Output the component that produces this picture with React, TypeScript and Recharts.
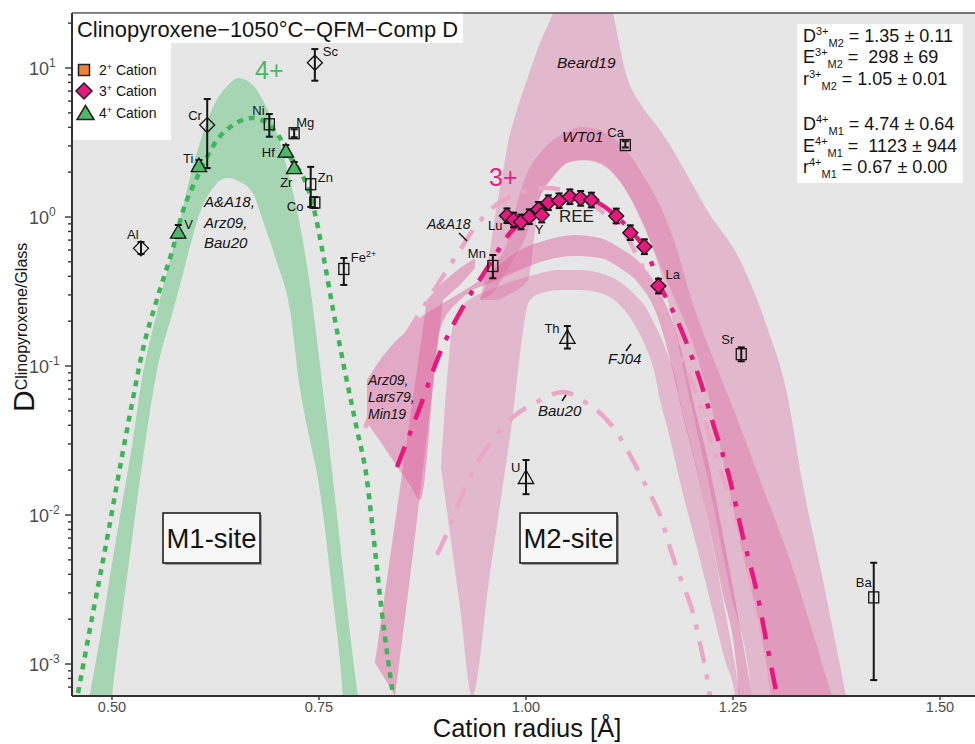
import React from 'react';
import { ComposedChart, Area, Line, Scatter, XAxis, YAxis, ErrorBar } from 'recharts';

const FONT = '"Liberation Sans", Arial, Helvetica, sans-serif';
const INK = '#141414';

// ---------------- axes ----------------
const X_MIN = 0.4517;
const X_MAX = 1.5423;
const Y_MIN = 0.00061;
const Y_MAX = 23.4;
const xTicks = [0.5, 0.75, 1.0, 1.25, 1.5];
const yTicks = [
  0.0007, 0.0008, 0.0009, 0.001, 0.002, 0.003, 0.004, 0.005, 0.006, 0.007, 0.008, 0.009,
  0.01, 0.02, 0.03, 0.04, 0.05, 0.06, 0.07, 0.08, 0.09,
  0.1, 0.2, 0.3, 0.4, 0.5, 0.6, 0.7, 0.8, 0.9,
  1, 2, 3, 4, 5, 6, 7, 8, 9, 10, 20,
];
const yMajor = [0.001, 0.01, 0.1, 1, 10];
const yMajorExp = ['-3', '-2', '-1', '0', '1'];

// ---------------- M1-site model band (A&A18, Arz09, Bau20) ----------------
const greenBandR = [0.473, 0.486, 0.5, 0.513, 0.524, 0.536, 0.554, 0.574, 0.585, 0.594, 0.606, 0.622, 0.639, 0.653, 0.67, 0.682, 0.699, 0.715, 0.727, 0.739, 0.749, 0.767, 0.779, 0.787, 0.797];
const greenBandHi = [0.00061, 0.00154, 0.00469, 0.0126, 0.0286, 0.0805, 0.227, 0.629, 1.11, 1.83, 3.14, 5.47, 7.57, 8.57, 7.69, 6.1, 3.66, 1.77, 0.884, 0.35, 0.128, 0.0172, 0.00427, 0.00169, 0.00061];
const greenBandLo = [0.0001, 0.0001, 0.00061, 0.0023, 0.0068, 0.021, 0.0912, 0.238, 0.402, 0.629, 1.06, 1.57, 1.83, 1.74, 1.45, 0.955, 0.499, 0.238, 0.0712, 0.0319, 0.0172, 0.00269, 0.00061, 0.0001, 0.0001];

// ---------------- 4+ fit on M1 ----------------
const fit4R = [0.459, 0.477, 0.496, 0.504, 0.522, 0.538, 0.554, 0.574, 0.585, 0.603, 0.627, 0.646, 0.67, 0.699, 0.715, 0.736, 0.745, 0.754, 0.767, 0.781, 0.796, 0.808, 0.815, 0.826, 0.839];
const fit4D = [0.000639, 0.0022, 0.00793, 0.01405, 0.0484, 0.134, 0.277, 0.629, 1.064, 1.856, 3.29, 4.14, 4.62, 3.66, 2.53, 1.59, 1.064, 0.6, 0.238, 0.094, 0.0372, 0.01717, 0.00793, 0.0022, 0.000639];

// ---------------- M2-site model bands ----------------
const beardR = [0.9445, 0.9565, 0.9638, 0.971, 0.9783, 0.9891, 1.0024, 1.0169, 1.0326, 1.0531, 1.0773, 1.0978, 1.1051, 1.122, 1.1377, 1.1618, 1.1775, 1.1981, 1.2186, 1.2584, 1.2911, 1.3152, 1.3333, 1.3611, 1.3865];
const beardHi = [0.277, 0.6, 1.114, 1.856, 3.14, 5.23, 8.7, 14.7, 23.4, 53.1, 61.9, 36.1, 23.4, 8.7, 5.82, 3.84, 2.82, 1.771, 1.114, 0.515, 0.183, 0.0659, 0.0172, 0.00314, 0.00061];
const beardLo = [0.277, 0.277, 0.277, 0.286, 0.3, 0.324, 0.378, 1.362, 1.856, 2.34, 2.41, 2.17, 1.97, 1.472, 0.985, 0.476, 0.3, 0.161, 0.069, 0.00669, 0.00094, 0.0001, 0.0001, 0.0001, 0.0001];

const wt01R = [0.9445, 0.9626, 0.9771, 0.9867, 0.9964, 1.0169, 1.0326, 1.0495, 1.0652, 1.0857, 1.1051, 1.1256, 1.1413, 1.1618, 1.1799, 1.1981, 1.2222, 1.2464, 1.2729, 1.2826, 1.3188, 1.3454, 1.3696];
const wt01Hi = [0.277, 0.476, 0.669, 1.08, 1.691, 2.69, 3.29, 3.72, 4.02, 3.9, 3.39, 2.61, 1.91, 1.204, 0.669, 0.3, 0.128, 0.0591, 0.0241, 0.0172, 0.00499, 0.00169, 0.00061];
const wt01Lo = [0.277, 0.324, 0.441, 0.539, 0.669, 1.362, 1.856, 2.3, 2.41, 2.3, 1.97, 1.362, 0.911, 0.441, 0.174, 0.0591, 0.0147, 0.00314, 0.00061, 0.0001, 0.0001, 0.0001, 0.0001];

const arzR = [0.808, 0.8237, 0.8406, 0.8599, 0.872, 0.8961, 0.9203, 0.9324, 0.9601, 0.9928, 1.0254, 1.0592, 1.0894, 1.1135, 1.1377, 1.1558, 1.1679, 1.1763, 1.1908, 1.2017, 1.2198, 1.2367, 1.2548, 1.2645, 1.2729];
const arzHi = [0.0805, 0.1097, 0.1427, 0.18, 0.21, 0.257, 0.309, 0.339, 0.441, 0.6, 0.701, 0.757, 0.723, 0.619, 0.491, 0.361, 0.265, 0.204, 0.1097, 0.0591, 0.0234, 0.00793, 0.0023, 0.00115, 0.00061];
const arzLo = [0.0414, 0.0314, 0.0227, 0.0159, 0.0126, 0.174, 0.277, 0.314, 0.366, 0.441, 0.515, 0.547, 0.531, 0.455, 0.35, 0.238, 0.1494, 0.097, 0.0434, 0.0253, 0.00926, 0.00314, 0.000911, 0.0001, 0.0001];

const fjR = [0.8973, 0.9046, 0.9106, 0.9203, 0.9348, 0.9565, 0.9807, 1.0048, 1.0229, 1.0411, 1.0652, 1.0894, 1.1135, 1.1316, 1.1437, 1.1558, 1.1618, 1.1715, 1.1799, 1.186, 1.2041, 1.2222, 1.2403, 1.2524, 1.2584];
const fjHi = [0.021, 0.0805, 0.174, 0.238, 0.286, 0.324, 0.366, 0.402, 0.428, 0.441, 0.441, 0.421, 0.366, 0.3, 0.253, 0.188, 0.161, 0.1185, 0.087, 0.0591, 0.0234, 0.00793, 0.0023, 0.000985, 0.00061];
const fjLo = [0.021, 0.01063, 0.006, 0.00241, 0.00061, 0.00408, 0.0334, 0.277, 0.314, 0.324, 0.324, 0.309, 0.257, 0.188, 0.1383, 0.087, 0.0591, 0.0372, 0.0234, 0.0167, 0.0068, 0.00269, 0.00106, 0.00061, 0.0001];

const stripR = [0.8176, 0.8297, 0.8418, 0.8599, 0.8804, 0.8998, 0.9203, 0.9384];
const stripHi = [0.00102, 0.003, 0.00884, 0.0441, 0.277, 0.366, 0.455, 0.531];
const stripLo = [0.00102, 0.000793, 0.00061, 0.00378, 0.0344, 0.277, 0.35, 0.455];

// ---------------- M2-site curves ----------------
const fit3R = [0.8442, 0.872, 0.8961, 0.9287, 0.9541, 0.9807, 1.0048, 1.029, 1.0495, 1.0713, 1.0954, 1.1099, 1.128, 1.1461, 1.1618, 1.1824, 1.2101, 1.2258, 1.2464, 1.2621, 1.279, 1.2923, 1.3031];
const fit3D = [0.021, 0.0531, 0.1223, 0.277, 0.462, 0.781, 1.031, 1.261, 1.362, 1.341, 1.167, 1.0, 0.793, 0.582, 0.35, 0.204, 0.0805, 0.0414, 0.0172, 0.00712, 0.003, 0.00124, 0.00061];

const aa18R = [0.8056, 0.8237, 0.8394, 0.8515, 0.8816, 0.9046, 0.9203, 0.936, 0.9565, 0.9928, 1.0229, 1.0531, 1.0894, 1.122, 1.1413, 1.1618, 1.1896, 1.2101, 1.2258, 1.2464, 1.2609, 1.2766, 1.2911, 1.3007];
const aa18D = [0.0384, 0.069, 0.1149, 0.1494, 0.277, 0.441, 0.6, 0.818, 1.114, 1.449, 1.565, 1.472, 1.114, 0.734, 0.455, 0.265, 0.1097, 0.0547, 0.0286, 0.0126, 0.0068, 0.00282, 0.00119, 0.00061];

const bau20R = [0.8925, 0.9046, 0.9203, 0.9408, 0.9601, 0.9843, 1.0109, 1.0447, 1.0713, 1.0894, 1.1051, 1.1256, 1.1473, 1.1618, 1.1775, 1.1908, 1.2017, 1.2101, 1.2174, 1.2222];
const bau20D = [0.00539, 0.00757, 0.0126, 0.0223, 0.0319, 0.0455, 0.0564, 0.0669, 0.0573, 0.0484, 0.039, 0.0253, 0.0147, 0.01, 0.00523, 0.00329, 0.0022, 0.00138, 0.000884, 0.00061];

// ---------------- measured partition coefficients ----------------
const cat2Names = ['Ni', 'Mg', 'Zn', 'Co', 'Fe2+', 'Mn', 'Ca', 'Sr', 'Ba'];
const cat2R = [0.69, 0.72, 0.74, 0.745, 0.78, 0.96, 1.12, 1.26, 1.42];
const cat2D = [4.19, 3.65, 1.66, 1.25, 0.448, 0.469, 3.04, 0.12, 0.0028];
const cat2Lo = [3.46, 3.43, 1.17, 1.15, 0.35, 0.388, 2.93, 0.1075, 0.00078];
const cat2Hi = [4.91, 3.88, 2.17, 1.36, 0.531, 0.556, 3.23, 0.1334, 0.00478];

const reeNames = ['Lu', 'Yb', 'Tm', 'Er', 'Ho', 'Y', 'Dy', 'Tb', 'Gd', 'Eu', 'Sm', 'Nd', 'Pr', 'Ce', 'La'];
const reeR = [0.977, 0.985, 0.994, 1.004, 1.015, 1.019, 1.027, 1.04, 1.053, 1.066, 1.079, 1.109, 1.126, 1.143, 1.16];
const reeD = [1.02, 0.955, 0.926, 1.005, 1.126, 1.03, 1.247, 1.286, 1.368, 1.335, 1.3, 1.016, 0.785, 0.632, 0.344];
const reeLo = [0.911, 0.853, 0.827, 0.897, 1.005, 0.92, 1.113, 1.148, 1.221, 1.192, 1.161, 0.907, 0.701, 0.564, 0.307];
const reeHi = [1.142, 1.07, 1.037, 1.126, 1.261, 1.154, 1.397, 1.44, 1.532, 1.495, 1.456, 1.138, 0.879, 0.708, 0.385];

const open3Names = ['Sc', 'Cr', 'Al'];
const open3R = [0.745, 0.615, 0.535];
const open3D = [10.85, 4.14, 0.616];
const open3Lo = [8.22, 2.13, 0.565];
const open3Hi = [13.4, 6.19, 0.68];

const cat4Names = ['Ti', 'V', 'Hf', 'Zr'];
const cat4R = [0.605, 0.58, 0.71, 0.72];
const cat4D = [2.23, 0.797, 2.79, 2.16];
const cat4Lo = [2.1, 0.723, 2.53, 2.0];
const cat4Hi = [2.41, 0.884, 3.04, 2.34];

const open4Names = ['Th', 'U'];
const open4R = [1.05, 1.0];
const open4D = [0.157, 0.018];
const open4Lo = [0.131, 0.0138];
const open4Hi = [0.1855, 0.0234];

const statsLines = [
  { main: 'D', sup: '3+', sub: 'M2', rest: ' = 1.35 ± 0.11' },
  { main: 'E', sup: '3+', sub: 'M2', rest: ' =  298 ± 69' },
  { main: 'r', sup: '3+', sub: 'M2', rest: ' = 1.05 ± 0.01' },
  { main: 'D', sup: '4+', sub: 'M1', rest: ' = 4.74 ± 0.64' },
  { main: 'E', sup: '4+', sub: 'M1', rest: ' =  1123 ± 944' },
  { main: 'r', sup: '4+', sub: 'M1', rest: ' = 0.67 ± 0.00' },
];

// label offsets (pixels from the marker centre)
const labelOffsets: Record<string, [number, number]> = {
  Sc: [8, -7], Cr: [-19, -5], Ni: [-17, -9], Mg: [2, -6], Ti: [-16, -2], Hf: [-24, 6], Zr: [-14, 20],
  Zn: [7, -2], Co: [-28, 8], V: [6, -3], Al: [-14, -9], 'Fe2+': [7, -7], Mn: [-25, -8], Ca: [-18, -8],
  Lu: [-19, 14], Y: [-7, 19], La: [7, -7], Th: [-23, -4], U: [-15, -5], Sr: [-20, -10], Ba: [-18, -10],
};

// ---------------- data assembly ----------------
const zipBand = (r: number[], lo: number[], hi: number[]) => r.map((x, i) => ({ r: x, lo: lo[i], hi: hi[i] }));
const zipLine = (r: number[], d: number[]) => r.map((x, i) => ({ r: x, d: d[i] }));
const zipPts = (n: string[], r: number[], d: number[], lo: number[], hi: number[]) =>
  n.map((name, i) => ({ name, r: r[i], d: d[i], lo: lo[i], hi: hi[i] }));

const greenBand = zipBand(greenBandR, greenBandLo, greenBandHi);
const beardBand = zipBand(beardR, beardLo, beardHi);
const wt01Band = zipBand(wt01R, wt01Lo, wt01Hi);
const arzBand = zipBand(arzR, arzLo, arzHi);
const fjBand = zipBand(fjR, fjLo, fjHi);
const stripBand = zipBand(stripR, stripLo, stripHi);
const fit4 = zipLine(fit4R, fit4D);
const fit3 = zipLine(fit3R, fit3D);
const aa18 = zipLine(aa18R, aa18D);
const bau20 = zipLine(bau20R, bau20D);
const cat2 = zipPts(cat2Names, cat2R, cat2D, cat2Lo, cat2Hi);
const ree = zipPts(reeNames, reeR, reeD, reeLo, reeHi);
const open3 = zipPts(open3Names, open3R, open3D, open3Lo, open3Hi);
const cat4 = zipPts(cat4Names, cat4R, cat4D, cat4Lo, cat4Hi);
const open4 = zipPts(open4Names, open4R, open4D, open4Lo, open4Hi);

const rangeKey = (p: any) => [p.lo, p.hi];
const errKey = (p: any) => [p.d - p.lo, p.hi - p.d];

const PINK = '#de5f9c';
const PINK_OP = 0.33;

// ---------------- renderers ----------------
const PtLabel = ({ cx, cy, name }: any) => {
  const off = labelOffsets[name];
  if (!off) return null;
  return (
    <text x={cx + off[0]} y={cy + off[1]} fontFamily={FONT} fontSize={13} fill={INK}>
      {name === 'Fe2+' ? (
        <>
          Fe<tspan fontSize={9} dy={-5}>2+</tspan>
        </>
      ) : (
        name
      )}
    </text>
  );
};
const nameOf = (p: any) => (p.payload && p.payload.name) || p.name;

const squareShape = (p: any) => (
  <g>
    <rect x={p.cx - 5} y={p.cy - 5.5} width={10} height={11} fill="none" stroke={INK} strokeWidth={1.3} />
    <PtLabel cx={p.cx} cy={p.cy} name={nameOf(p)} />
  </g>
);
const makeDiamond = (fill: string) => (p: any) => (
  <g>
    <polygon
      points={`${p.cx},${p.cy - 7.5} ${p.cx + 7.5},${p.cy} ${p.cx},${p.cy + 7.5} ${p.cx - 7.5},${p.cy}`}
      fill={fill}
      stroke={INK}
      strokeWidth={1.3}
    />
    <PtLabel cx={p.cx} cy={p.cy} name={nameOf(p)} />
  </g>
);
const makeTriangle = (fill: string) => (p: any) => (
  <g>
    <polygon
      points={`${p.cx},${p.cy - 7} ${p.cx + 7.7},${p.cy + 6.5} ${p.cx - 7.7},${p.cy + 6.5}`}
      fill={fill}
      stroke={INK}
      strokeWidth={1.3}
    />
    <PtLabel cx={p.cx} cy={p.cy} name={nameOf(p)} />
  </g>
);

const XTick = (props: any) => {
  const { x, payload } = props;
  return (
    <text x={x} y={712} textAnchor="middle" fontFamily={FONT} fontSize={14.5} fill="#4d4d4d">
      {Number(payload.value).toFixed(2)}
    </text>
  );
};

const YTick = (props: any) => {
  const { y, payload } = props;
  const v = payload.value;
  const k = yMajor.findIndex((m) => Math.abs(m - v) / m < 1e-6);
  return (
    <g>
      <line x1={k >= 0 ? 65 : 68} x2={72} y1={y} y2={y} stroke="#333" strokeWidth={1.4} />
      {k >= 0 && (
        <text x={29} y={y + 6.5} fontFamily={FONT} fontSize={18} fill="#4d4d4d">
          10<tspan fontSize={12} dy={-8}>{yMajorExp[k]}</tspan>
        </text>
      )}
    </g>
  );
};

const Stat = ({ y, line }: any) => (
  <text x={803} y={y} fontFamily={FONT} fontSize={18} fill={INK} style={{ whiteSpace: 'pre' }}>
    {line.main}
    <tspan fontSize={11} dy={-7}>{line.sup}</tspan>
    <tspan fontSize={11} dy={12}>{line.sub}</tspan>
    <tspan fontSize={18} dy={-5}>{line.rest}</tspan>
  </text>
);

const statY = [42, 63, 85, 130, 152, 173];

export default function App() {
  return (
    <div style={{ position: 'absolute', left: 0, top: 0, width: 975, height: 744, background: '#fff', overflow: 'hidden' }}>
      <div style={{ position: 'absolute', left: 72, top: 13, width: 903, height: 683, background: '#e5e6e5' }} />
      <div style={{ position: 'absolute', left: 0, top: 0 }}>
        <ComposedChart width={975} height={744} margin={{ top: 13, right: 0, bottom: 0, left: 0 }}>
          <XAxis
            type="number"
            dataKey="r"
            domain={[X_MIN, X_MAX]}
            allowDataOverflow
            ticks={xTicks}
            interval={0}
            height={48}
            tick={<XTick />}
            tickSize={4}
            tickLine={{ stroke: '#333', strokeWidth: 1.4 }}
            axisLine={{ stroke: '#333', strokeWidth: 2 }}
          />
          <YAxis
            type="number"
            scale="log"
            domain={[Y_MIN, Y_MAX]}
            allowDataOverflow
            ticks={yTicks}
            interval={0}
            width={72}
            tick={<YTick />}
            tickLine={false}
            axisLine={{ stroke: '#333', strokeWidth: 2 }}
          />

          <Area data={greenBand} dataKey={rangeKey} type="monotone" stroke="none" fill="#a5d5b3" fillOpacity={1} dot={false} activeDot={false} isAnimationActive={false} />

          <Area data={beardBand} dataKey={rangeKey} type="monotone" stroke="none" fill={PINK} fillOpacity={PINK_OP} dot={false} activeDot={false} isAnimationActive={false} />
          <Area data={wt01Band} dataKey={rangeKey} type="monotone" stroke="none" fill={PINK} fillOpacity={PINK_OP} dot={false} activeDot={false} isAnimationActive={false} />
          <Area data={arzBand} dataKey={rangeKey} type="monotone" stroke="none" fill={PINK} fillOpacity={0.45} dot={false} activeDot={false} isAnimationActive={false} />
          <Area data={fjBand} dataKey={rangeKey} type="monotone" stroke="none" fill={PINK} fillOpacity={PINK_OP} dot={false} activeDot={false} isAnimationActive={false} />
          <Area data={stripBand} dataKey={rangeKey} type="linear" stroke="none" fill={PINK} fillOpacity={0.45} dot={false} activeDot={false} isAnimationActive={false} />

          <Line data={fit4} dataKey="d" type="monotone" stroke="#3fb55a" strokeWidth={4.5} strokeDasharray="6 6" dot={false} activeDot={false} isAnimationActive={false} />
          <Line data={aa18} dataKey="d" type="monotone" stroke="#eba8c6" strokeWidth={4.5} strokeDasharray="22 12 5 12" dot={false} activeDot={false} isAnimationActive={false} />
          <Line data={bau20} dataKey="d" type="monotone" stroke="#eba8c6" strokeWidth={4.5} strokeDasharray="22 12 5 12" dot={false} activeDot={false} isAnimationActive={false} />
          <Line data={fit3} dataKey="d" type="monotone" stroke="#e6177d" strokeWidth={4.5} strokeDasharray="22 12 5 12" dot={false} activeDot={false} isAnimationActive={false} />

          <Scatter data={cat2} dataKey="d" shape={squareShape} isAnimationActive={false}>
            <ErrorBar dataKey={errKey} direction="y" width={3.5} stroke={INK} strokeWidth={2} />
          </Scatter>
          <Scatter data={open3} dataKey="d" shape={makeDiamond('none')} isAnimationActive={false}>
            <ErrorBar dataKey={errKey} direction="y" width={3.5} stroke={INK} strokeWidth={2} />
          </Scatter>
          <Scatter data={ree} dataKey="d" shape={makeDiamond('#e6197e')} isAnimationActive={false}>
            <ErrorBar dataKey={errKey} direction="y" width={3.5} stroke={INK} strokeWidth={2} />
          </Scatter>
          <Scatter data={cat4} dataKey="d" shape={makeTriangle('#4fb66a')} isAnimationActive={false}>
            <ErrorBar dataKey={errKey} direction="y" width={3.5} stroke={INK} strokeWidth={2} />
          </Scatter>
          <Scatter data={open4} dataKey="d" shape={makeTriangle('none')} isAnimationActive={false}>
            <ErrorBar dataKey={errKey} direction="y" width={3.5} stroke={INK} strokeWidth={2} />
          </Scatter>
        </ComposedChart>
      </div>

      <svg width={975} height={744} style={{ position: 'absolute', left: 0, top: 0, pointerEvents: 'none' }}>
        <line x1={72} y1={13} x2={975} y2={13} stroke="#4a4a4a" strokeWidth={1.5} />
        {/* title */}
        <rect x={73} y={13.8} width={390} height={29.2} fill="#fff" />
        <text x={77} y={37} fontFamily={FONT} fontSize={22} fill={INK} textLength={381} lengthAdjust="spacingAndGlyphs">
          Clinopyroxene−1050°C−QFM−Comp D
        </text>
        {/* legend */}
        <rect x={73} y={43} width={98} height={97} fill="#fff" />
        <rect x={78.5} y={64.5} width={11} height={11} fill="#f08033" stroke="#222" strokeWidth={1.5} />
        <polygon points="84,83 92,91 84,99 76,91" fill="#e6197e" stroke="#222" strokeWidth={1.5} />
        <polygon points="85.5,105.5 94,119.5 77,119.5" fill="#4fb66a" stroke="#222" strokeWidth={1.5} />
        <g fontFamily={FONT} fontSize={14} fill={INK} style={{ whiteSpace: 'pre' }}>
          <text x={99} y={75}>2<tspan fontSize={9} dy={-5}>+</tspan><tspan dy={5}> Cation</tspan></text>
          <text x={99} y={96}>3<tspan fontSize={9} dy={-5}>+</tspan><tspan dy={5}> Cation</tspan></text>
          <text x={99} y={118}>4<tspan fontSize={9} dy={-5}>+</tspan><tspan dy={5}> Cation</tspan></text>
        </g>
        {/* stats */}
        <rect x={797} y={24} width={166} height={159} fill="#fff" />
        {statsLines.map((l, i) => (
          <Stat key={i} y={statY[i]} line={l} />
        ))}
        {/* axis titles */}
        <text x={527} y={737} textAnchor="middle" fontFamily={FONT} fontSize={25.5} fill={INK}>
          Cation radius [Å]
        </text>
        <text transform="translate(34,412) rotate(-90)" fontFamily={FONT} fontSize={30} fill={INK}>
          D<tspan fontSize={16} dy={-7}>Clinopyroxene/Glass</tspan>
        </text>
        {/* site boxes */}
        <rect x={165} y={515} width={97} height={50} fill="#a0a0a0" />
        <rect x={163} y={513} width={97} height={50} fill="#f6f7f6" stroke={INK} strokeWidth={1.5} />
        <text x={211.5} y={548} textAnchor="middle" fontFamily={FONT} fontSize={28} fill={INK} textLength={90} lengthAdjust="spacingAndGlyphs">
          M1-site
        </text>
        <rect x={522} y={515} width={97} height={50} fill="#a0a0a0" />
        <rect x={520} y={513} width={97} height={50} fill="#f6f7f6" stroke={INK} strokeWidth={1.5} />
        <text x={568.5} y={548} textAnchor="middle" fontFamily={FONT} fontSize={28} fill={INK} textLength={90} lengthAdjust="spacingAndGlyphs">
          M2-site
        </text>
        {/* charge labels */}
        <text x={255} y={79} fontFamily={FONT} fontSize={25} fill="#4cb863">4+</text>
        <text x={489} y={186} fontFamily={FONT} fontSize={25} fill="#e8207f">3+</text>
        <text x={559} y={222} fontFamily={FONT} fontSize={17} fill="#222">REE</text>
        {/* model labels */}
        <g fontFamily={FONT} fontStyle="italic" fill={INK}>
          <text x={204} y={207} fontSize={15}>{'A&A18,'}</text>
          <text x={204} y={228} fontSize={15}>Arz09,</text>
          <text x={204} y={248} fontSize={15}>Bau20</text>
          <text x={557} y={68} fontSize={15.5}>Beard19</text>
          <text x={562} y={142} fontSize={15.5}>WT01</text>
          <text x={427} y={229} fontSize={14}>{'A&A18'}</text>
          <text x={368} y={385} fontSize={14}>Arz09,</text>
          <text x={368} y={402} fontSize={14}>Lars79,</text>
          <text x={368} y={419} fontSize={14}>Min19</text>
          <text x={608} y={364} fontSize={15}>FJ04</text>
          <text x={538} y={416} fontSize={15}>Bau20</text>
        </g>
        <g stroke={INK} strokeWidth={1.5}>
          <line x1={459} y1={233} x2={467} y2={241} />
          <line x1={626} y1={351} x2={631} y2={344} />
          <line x1={562} y1={401} x2={566} y2={395} />
        </g>
      </svg>
    </div>
  );
}
